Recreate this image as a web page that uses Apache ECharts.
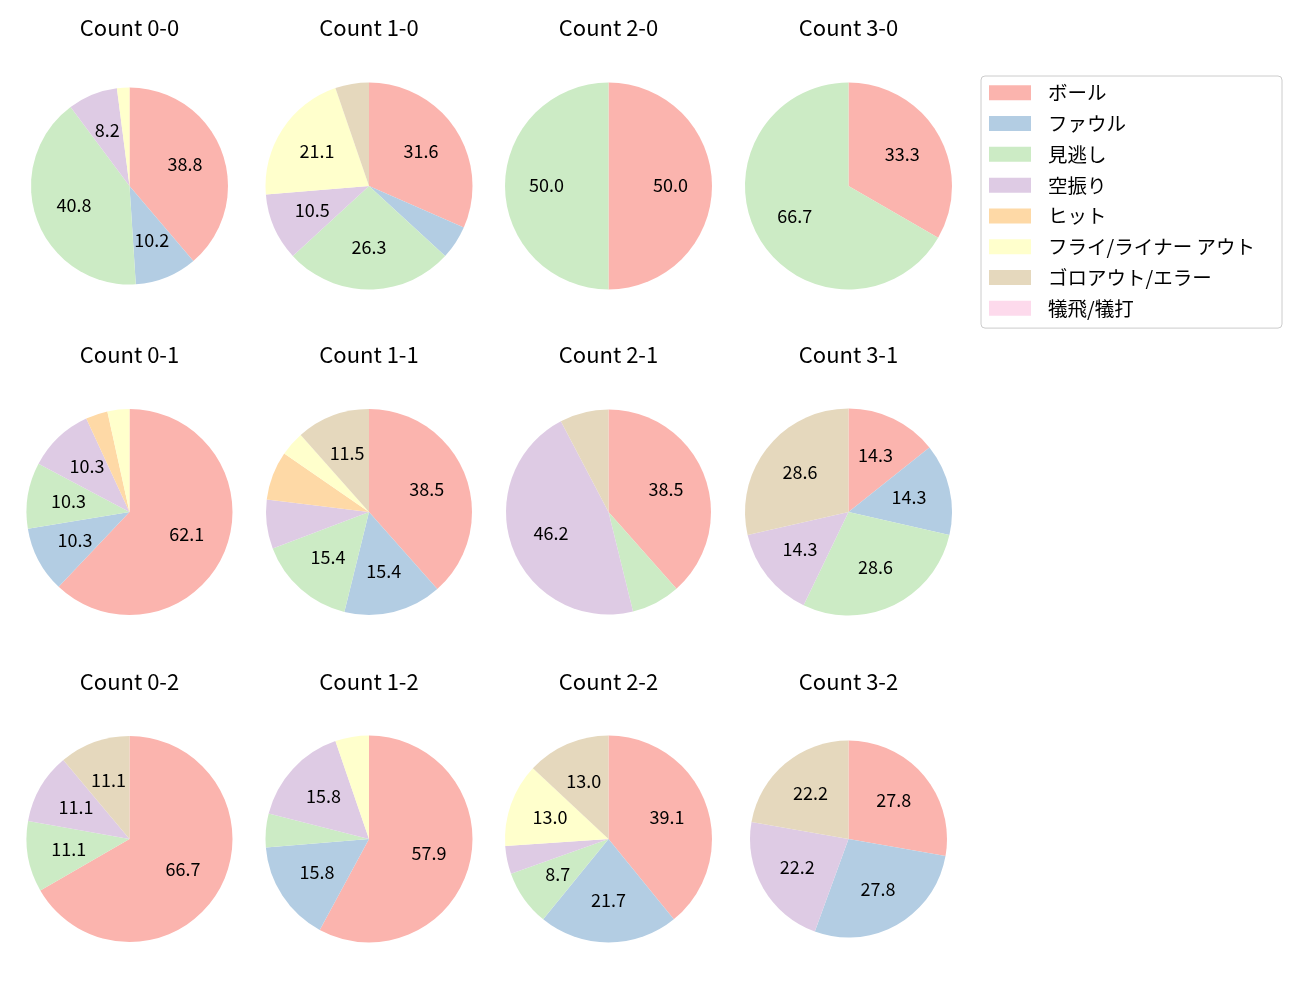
<!DOCTYPE html>
<html><head><meta charset="utf-8">
<script src="https://cdn.jsdelivr.net/npm/echarts@6/dist/echarts.min.js"></script>
<style>html,body{margin:0;padding:0;background:#fff}#c{width:1300px;height:1000px}</style>
</head><body><div id="c"></div>
<script>
const categories = ['ボール','ファウル','見逃し','空振り','ヒット','フライ/ライナー アウト','ゴロアウト/エラー','犠飛/犠打'];
const countLabels = ['Count 0-0','Count 1-0','Count 2-0','Count 3-0','Count 0-1','Count 1-1','Count 2-1','Count 3-1','Count 0-2','Count 1-2','Count 2-2','Count 3-2'];
// pitch counts per category (order of categories)
const c00 = [19,5,20,4,0,1,0,0];
const c10 = [6,1,5,2,0,4,1,0];
const c20 = [1,0,1,0,0,0,0,0];
const c30 = [1,0,2,0,0,0,0,0];
const c01 = [18,3,3,3,1,1,0,0];
const c11 = [10,4,4,2,2,1,3,0];
const c21 = [5,0,1,6,0,0,1,0];
const c31 = [1,1,2,1,0,0,2,0];
const c02 = [6,0,1,1,0,0,1,0];
const c12 = [11,3,1,3,0,1,0,0];
const c22 = [9,5,2,1,0,3,3,0];
const c32 = [5,5,0,4,0,0,4,0];
const allCounts = [c00,c10,c20,c30,c01,c11,c21,c31,c02,c12,c22,c32];

const colors = ['#fbb4ae','#b3cde3','#ccebc5','#decbe4','#fed9a6','#ffffcc','#e5d8bd','#fddaec'];
const FONT = '"Noto Sans CJK JP", "Noto Sans", sans-serif';
const colX = [129.5, 369, 608.5, 848.5];
const rowY = [186, 512, 839];
const titleY = [28, 355, 682];
const radii = [98.5,103.5,103.5,103.5, 103,103,102.5,103.5, 103,103.5,103.5,98.5];

const series = [];
const labelSeries = [];
const titles = [];
allCounts.forEach((vals, i) => {
  const col = i % 4, row = Math.floor(i / 4);
  const cx = colX[col], cy = rowY[row], r = radii[i];
  const total = vals.reduce((a,b)=>a+b,0);
  const data = categories.map((n, k) => ({name: n, value: vals[k]}));
  series.push({
    type: 'pie', center: [cx, cy], radius: [0, r], startAngle: 90, clockwise: true,
    data: data, label: {show: false}, labelLine: {show: false},
    itemStyle: {borderWidth: 0}, silent: true, animation: false, minAngle: 0, avoidLabelOverlap: false
  });
  labelSeries.push({
    type: 'pie', center: [cx, cy], radius: [0, r * 1.14], startAngle: 90, clockwise: true,
    data: data, silent: true, animation: false, legendHoverLink: false, avoidLabelOverlap: false,
    itemStyle: {color: 'rgba(0,0,0,0)', borderWidth: 0}, labelLine: {show: false},
    labelLayout: {dy: -1},
    label: {show: true, position: 'inside', color: '#000', fontSize: 18, fontFamily: FONT,
      formatter: p => { const pct = p.value / total * 100; return pct >= 8 ? pct.toFixed(1) : ''; }}
  });
  titles.push({text: countLabels[i], left: cx, top: titleY[row] - 11, textAlign: 'center', padding: 0,
    textStyle: {fontSize: 22, fontWeight: 'normal', color: '#000', fontFamily: FONT}});
});

const chart = echarts.init(document.getElementById('c'), null, {renderer: 'canvas'});
chart.setOption({
  color: colors,
  animation: false,
  title: titles,
  legend: {
    data: categories, orient: 'vertical', left: 981, top: 76,
    itemWidth: 42, itemHeight: 15, icon: 'rect', itemGap: 11.3,
    padding: [7, 27, 10, 8],
    borderColor: '#cccccc', borderWidth: 1, borderRadius: 4, backgroundColor: '#fff',
    selectedMode: false,
    textStyle: {fontSize: 19.5, color: '#000', fontFamily: FONT, lineHeight: 18, padding: [0,0,0,12]}
  },
  series: series.concat(labelSeries)
});
</script></body></html>
